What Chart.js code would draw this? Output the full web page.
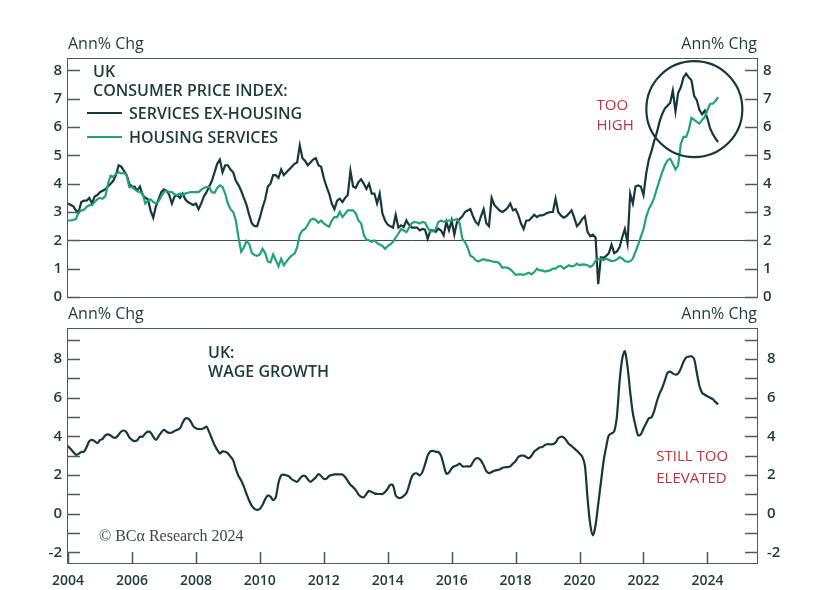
<!DOCTYPE html>
<html>
<head>
<meta charset="utf-8">
<script src="https://cdn.jsdelivr.net/npm/chart.js@4.4.1/dist/chart.umd.min.js"></script>
<style>
  body { margin: 0; background: #fff; }
  #wrap { position: relative; width: 824px; height: 590px; }
  canvas { position: absolute; left: 0; }
  .box { position: absolute; box-sizing: border-box; border: 1.5px solid #4c5c5c; pointer-events: none; }
</style>
</head>
<body>
<div id="wrap">
  <canvas id="cpi" width="824" height="302" style="top:0"></canvas>
  <canvas id="wage" width="824" height="288" style="top:302px"></canvas>
</div>
<script>
// monthly data, Jan 2004 onwards
const startYear = 2004;

const servicesExHousing = [
  3.3, 3.25, 3.2, 3.05, 3.0, 3.35, 3.4, 3.4, 3.5, 3.3, 3.55, 3.6,
  3.7, 3.75, 3.8, 3.9, 4.0, 4.1, 4.3, 4.65, 4.6, 4.45, 4.3, 4.0,
  3.9, 3.9, 3.75, 3.9, 3.6, 3.5, 3.45, 3.05, 2.8, 3.2, 3.45, 3.7,
  3.8, 3.75, 3.6, 3.3, 3.55, 3.6, 3.5, 3.65, 3.45, 3.35, 3.3, 3.25,
  3.3, 3.1, 3.3, 3.55, 3.7, 3.9, 4.1, 4.4, 4.7, 4.85, 4.4, 4.65,
  4.65, 4.5, 4.4, 4.1, 3.95, 3.75, 3.5, 3.25, 2.9, 2.6, 2.5, 2.5,
  2.8, 3.15, 3.45, 3.9, 4.0, 4.3, 4.3, 4.2, 4.5, 4.3, 4.4, 4.5,
  4.6, 4.7, 4.75, 5.35, 4.9, 4.8, 4.65, 4.75, 4.85, 4.9, 4.65, 4.6,
  4.2, 3.9, 3.65, 3.3, 3.1, 3.4, 3.47, 3.35, 3.5, 3.6, 4.45, 3.9,
  3.85, 4.05, 4.15, 4.0, 3.82, 4.0, 3.65, 3.65, 3.3, 3.65, 2.95, 2.7,
  2.55, 2.5, 2.45, 2.9, 2.45, 2.53, 2.47, 2.7, 2.55, 2.45, 2.45, 2.45,
  2.35, 2.4, 2.38, 2.05, 2.35, 2.35, 2.3, 2.41, 2.35, 2.18, 2.65, 2.35,
  2.7, 2.2, 2.65, 2.75, 2.85, 3.0, 3.05, 3.1, 2.85, 2.65, 2.55, 2.85,
  3.1, 2.6, 2.5, 3.5, 3.25, 3.15, 3.05, 3.0, 3.06, 3.15, 3.3, 3.06,
  3.1, 2.9, 2.6, 2.4, 2.7, 2.7, 2.8, 2.9, 2.82, 2.88, 2.88, 2.92,
  2.97, 3.0, 3.0, 3.47, 3.0, 2.88, 2.8, 2.85, 2.95, 3.06, 2.8, 2.5,
  2.6, 2.75, 2.85, 2.3, 2.15, 2.2, 2.1, 0.45, 1.4, 1.38, 1.45, 1.55,
  1.85, 1.55, 1.6, 1.75, 2.1, 2.4, 1.9, 3.65, 3.3, 3.9, 3.94, 3.9,
  3.6, 4.35, 4.85, 5.15, 5.5, 5.8, 6.18, 6.45, 6.65, 6.75, 6.85, 7.29,
  6.55, 7.2, 7.4, 7.75, 7.88, 7.75, 7.65, 7.1, 6.95, 6.6, 6.45, 6.58,
  6.3, 5.95, 5.75, 5.6, 5.47
];

const housingServices = [
  2.7, 2.7, 2.72, 2.76, 3.0, 3.05, 3.08, 3.18, 3.24, 3.24, 3.35, 3.45,
  3.5, 3.47, 3.55, 4.0, 4.28, 4.24, 4.35, 4.4, 4.36, 4.38, 4.3, 3.88,
  3.88, 3.8, 3.74, 3.7, 3.65, 3.3, 3.4, 3.45, 3.35, 3.3, 3.38, 3.55,
  3.7, 3.76, 3.7, 3.7, 3.62, 3.6, 3.65, 3.59, 3.65, 3.68, 3.7, 3.7,
  3.7, 3.7, 3.78, 3.85, 3.88, 3.88, 3.7, 3.68, 3.85, 3.94, 3.88, 3.65,
  3.3, 3.1, 3.0, 2.7, 2.1, 1.6, 1.75, 1.98, 1.88, 1.55, 1.48, 1.45,
  1.5, 1.7, 1.55, 1.25, 1.22, 1.5, 1.3, 1.08, 1.35, 1.12, 1.25, 1.38,
  1.47, 1.53, 1.75, 2.2, 2.35, 2.4, 2.55, 2.72, 2.76, 2.72, 2.62, 2.7,
  2.6, 2.53, 2.48, 2.7, 2.82, 2.82, 3.0, 2.82, 2.94, 3.06, 3.06, 3.06,
  2.95, 2.7, 2.6, 2.2, 2.02, 2.0, 1.94, 2.0, 1.9, 1.85, 1.8, 1.7,
  1.8, 1.86, 1.95, 2.1, 2.24, 2.4, 2.35, 2.29, 2.45, 2.6, 2.65, 2.63,
  2.59, 2.65, 2.62, 2.45, 2.3, 2.32, 2.4, 2.65, 2.7, 2.65, 2.68, 2.7,
  2.7, 2.72, 2.76, 2.6, 2.06, 1.94, 1.75, 1.46, 1.41, 1.3, 1.25, 1.3,
  1.34, 1.29, 1.29, 1.26, 1.24, 1.24, 1.18, 1.03, 1.05, 1.03, 0.98, 0.88,
  0.78, 0.8, 0.8, 0.78, 0.82, 0.86, 0.8, 0.88, 1.0, 0.94, 0.94, 0.9,
  0.92, 0.94, 1.0, 1.0, 1.08, 1.1, 1.0, 1.06, 1.12, 1.08, 1.1, 1.18,
  1.12, 1.15, 1.14, 1.12, 1.06, 1.12, 1.28, 1.33, 1.35, 1.3, 1.35, 1.31,
  1.27, 1.28, 1.32, 1.41, 1.36, 1.27, 1.24, 1.26, 1.35, 1.6, 1.85, 2.12,
  2.4, 2.82, 3.1, 3.28, 3.5, 3.82, 4.12, 4.4, 4.65, 4.82, 4.88, 4.7,
  4.5, 4.65, 5.4, 5.65, 5.65, 5.9, 6.32, 6.25, 6.18, 6.12, 6.25, 6.35,
  6.6, 6.82, 6.82, 6.92, 7.05
];

const wageGrowth = [
  3.5, 3.35, 3.19, 3.04, 3.1, 3.19, 3.2, 3.45, 3.75, 3.82, 3.75, 3.65,
  3.8, 3.87, 4.05, 4.1, 4.04, 3.94, 3.94, 4.08, 4.25, 4.3, 4.2, 3.95,
  3.82, 3.75, 3.8, 3.98, 3.98, 4.15, 4.24, 4.2, 3.98, 3.82, 4.0, 4.2,
  4.34, 4.24, 4.18, 4.2, 4.28, 4.34, 4.41, 4.7, 4.92, 4.92, 4.78, 4.53,
  4.42, 4.38, 4.38, 4.42, 4.5, 4.22, 3.88, 3.55, 3.3, 3.11, 3.22, 3.2,
  3.12, 2.95, 2.76, 2.3, 1.95, 1.72, 1.4, 1.02, 0.68, 0.4, 0.25, 0.2,
  0.24, 0.45, 0.75, 0.94, 0.88, 0.7, 0.85, 1.6, 1.98, 2.02, 1.98, 1.92,
  1.78, 1.7, 1.65, 1.81, 1.95, 1.95, 1.78, 1.65, 1.75, 1.87, 2.05, 1.95,
  1.81, 1.81, 1.95, 2.0, 2.03, 2.03, 2.03, 2.03, 1.9, 1.7, 1.5, 1.37,
  1.22, 1.0, 0.88, 0.85, 1.02, 1.18, 1.12, 1.05, 1.02, 1.02, 1.02, 1.12,
  1.3, 1.5, 1.46, 0.95, 0.82, 0.82, 0.92, 1.06, 1.45, 1.9, 2.07, 2.08,
  1.98, 2.15, 2.55, 3.0, 3.22, 3.25, 3.2, 3.19, 3.0, 2.52, 2.07, 2.13,
  2.35, 2.45, 2.5, 2.59, 2.45, 2.44, 2.45, 2.45, 2.67, 2.85, 2.87, 2.75,
  2.5, 2.2, 2.1, 2.15, 2.22, 2.25, 2.29, 2.36, 2.4, 2.41, 2.45, 2.59,
  2.72, 2.93, 3.0, 3.0, 2.93, 2.87, 3.0, 3.22, 3.32, 3.42, 3.45, 3.55,
  3.59, 3.59, 3.59, 3.68, 3.9, 3.98, 3.95, 3.8, 3.6, 3.5, 3.38, 3.25,
  3.11, 2.95, 2.5, 0.8, -0.54, -1.12, -0.6, 0.5, 1.6, 2.7, 3.45, 4.06,
  4.15, 4.25, 5.0, 6.8, 8.0, 8.4, 7.6, 6.3, 5.2, 4.55, 4.05, 4.1,
  4.4, 4.67, 4.93, 4.98, 5.3, 5.8, 6.2, 6.5, 6.88, 7.28, 7.35, 7.25,
  7.19, 7.25, 7.5, 7.85, 8.08, 8.12, 8.14, 8.0, 7.3, 6.6, 6.25, 6.15,
  6.07, 6.0, 5.92, 5.78, 5.65
];

const cpiTicks = [0, 1, 2, 3, 4, 5, 6, 7, 8];
const wageTicks = [-2, -1, 0, 1, 2, 3, 4, 5, 6, 7, 8, 9];
const wageTickLabels = [-2, 0, 2, 4, 6, 8];
const yearTicks = [2004, 2006, 2008, 2010, 2012, 2014, 2016, 2018, 2020, 2022, 2024];

const DARK = "#17383a";
const GREEN = "#21a27a";
const TEXT = "#1e3a3a";
const RED = "#b8363c";
const FRAME = "#4c5c5c";
const SANS = "'Open Sans', sans-serif";

function toPoints(arr) {
  return arr.map((v, i) => ({ x: startYear + i / 12, y: v }));
}

function setTicks(list) {
  return (scale) => { scale.ticks = list.map((v) => ({ value: v })); };
}

// tick marks pointing inwards from the plot box
function innerTicks(chart, xTicks) {
  const ctx = chart.ctx;
  const a = chart.chartArea;
  ctx.save();
  ctx.strokeStyle = FRAME;
  ctx.lineWidth = 1.5;
  ctx.beginPath();
  const yl = chart.scales.y, yr = chart.scales.yR;
  yl.ticks.forEach((t) => {
    const y = Math.round(yl.getPixelForValue(t.value)) + 0.5;
    ctx.moveTo(a.left, y); ctx.lineTo(a.left + 12, y);
  });
  yr.ticks.forEach((t) => {
    const y = Math.round(yr.getPixelForValue(t.value)) + 0.5;
    ctx.moveTo(a.right, y); ctx.lineTo(a.right - 12, y);
  });
  if (xTicks) {
    const xs = chart.scales.x;
    xs.ticks.forEach((t) => {
      const x = Math.round(xs.getPixelForValue(t.value)) + 0.5;
      ctx.moveTo(x, a.bottom); ctx.lineTo(x, a.bottom - 11);
    });
  }
  ctx.stroke();
  ctx.restore();
}

// the box itself sits on top of the canvas, sized from the chart area
function addBox(chart) {
  const a = chart.chartArea;
  const top = chart.canvas.offsetTop;
  const d = document.createElement("div");
  d.className = "box";
  d.style.left = (a.left - 0.75) + "px";
  d.style.top = (top + a.top - 0.75) + "px";
  d.style.width = (a.right - a.left + 1.5) + "px";
  d.style.height = (a.bottom - a.top + 1.5) + "px";
  document.getElementById("wrap").appendChild(d);
}

function text(ctx, s, x, y, font, color, align) {
  ctx.font = font;
  ctx.fillStyle = color;
  ctx.textAlign = align || "left";
  ctx.textBaseline = "middle";
  ctx.fillText(s, x, y);
}

const HEAD = "600 16px " + SANS;
const CALLOUT = "500 15px " + SANS;
const UNIT = "500 16px " + SANS;

const cpiNotes = {
  id: "cpiNotes",
  afterDraw(chart) {
    innerTicks(chart, false);
    const { ctx, chartArea: a, scales } = chart;
    const xs = scales.x, ys = scales.y;
    ctx.save();
    text(ctx, "Ann% Chg", a.left, a.top - 15, UNIT, TEXT);
    text(ctx, "Ann% Chg", a.right, a.top - 15, UNIT, TEXT, "right");
    text(ctx, "UK", a.left + 25, a.top + 13, HEAD, TEXT);
    text(ctx, "CONSUMER PRICE INDEX:", a.left + 25, a.top + 32, HEAD, TEXT);
    ctx.lineWidth = 2.2;
    ctx.strokeStyle = DARK;
    ctx.beginPath(); ctx.moveTo(a.left + 19, a.top + 54); ctx.lineTo(a.left + 54, a.top + 54); ctx.stroke();
    text(ctx, "SERVICES EX-HOUSING", a.left + 61, a.top + 55, HEAD, TEXT);
    ctx.strokeStyle = GREEN;
    ctx.beginPath(); ctx.moveTo(a.left + 19, a.top + 78); ctx.lineTo(a.left + 54, a.top + 78); ctx.stroke();
    text(ctx, "HOUSING SERVICES", a.left + 61, a.top + 79, HEAD, TEXT);
    text(ctx, "TOO", xs.getPixelForValue(2020.53), ys.getPixelForValue(6.75), CALLOUT, RED);
    text(ctx, "HIGH", xs.getPixelForValue(2020.53), ys.getPixelForValue(6.03), CALLOUT, RED);
    ctx.strokeStyle = DARK;
    ctx.lineWidth = 2.2;
    ctx.beginPath();
    ctx.arc(xs.getPixelForValue(2023.59), ys.getPixelForValue(6.63), 48, 0, Math.PI * 2);
    ctx.stroke();
    ctx.restore();
  }
};

const wageNotes = {
  id: "wageNotes",
  afterDraw(chart) {
    innerTicks(chart, true);
    const { ctx, chartArea: a, scales } = chart;
    const xs = scales.x, ys = scales.y;
    ctx.save();
    text(ctx, "Ann% Chg", a.left, a.top - 15, UNIT, TEXT);
    text(ctx, "Ann% Chg", a.right, a.top - 15, UNIT, TEXT, "right");
    text(ctx, "UK:", a.left + 140, a.top + 24, HEAD, TEXT);
    text(ctx, "WAGE GROWTH", a.left + 140, a.top + 43, HEAD, TEXT);
    text(ctx, "STILL TOO", xs.getPixelForValue(2022.4), ys.getPixelForValue(2.95), CALLOUT, RED);
    text(ctx, "ELEVATED", xs.getPixelForValue(2022.4), ys.getPixelForValue(1.83), CALLOUT, RED);
    text(ctx, "\u00A9 BC\u03B1 Research 2024", a.left + 31, a.top + 208, "16px 'Liberation Serif', serif", "#3a4848");
    ctx.restore();
  }
};

const tickFont = { family: SANS, size: 15, weight: "600" };

function fitY(width) {
  return (s) => { s.width = width; s.paddingTop = 0; s.paddingBottom = 0; };
}

function yAxes(min, max, ticks, labelFn, rightPad) {
  return {
    y: {
      position: "left", min: min, max: max,
      afterBuildTicks: setTicks(ticks),
      afterFit: fitY(68),
      border: { display: false },
      grid: {
        drawTicks: false,
        color: (c) => (c.tick && c.tick.value === 2 && min === 0 ? "#3e4c4c" : "rgba(0,0,0,0)"),
        lineWidth: 1
      },
      ticks: { padding: 6, color: TEXT, font: tickFont, callback: labelFn }
    },
    yR: {
      position: "right", min: min, max: max,
      afterBuildTicks: setTicks(ticks),
      afterFit: fitY(67),
      border: { display: false },
      grid: { display: false, drawTicks: false },
      ticks: { padding: rightPad, color: TEXT, font: tickFont, callback: labelFn }
    }
  };
}

const base = {
  responsive: false,
  animation: false,
  devicePixelRatio: 1,
  elements: { point: { radius: 0 } }
};

const cpiChart = new Chart(document.getElementById("cpi"), {
  type: "line",
  data: {
    datasets: [
      { label: "Housing services", data: toPoints(housingServices), borderColor: GREEN, borderWidth: 2.2, tension: 0 },
      { label: "Services ex-housing", data: toPoints(servicesExHousing), borderColor: DARK, borderWidth: 2.2, tension: 0 }
    ]
  },
  options: Object.assign({}, base, {
    layout: { padding: { top: 59, bottom: 5 } },
    plugins: { legend: { display: false }, tooltip: { enabled: false } },
    scales: Object.assign({
      x: { type: "linear", min: 2004, max: 2025.55, display: false }
    }, yAxes(0, 8.4, cpiTicks, (v) => String(v), 6))
  }),
  plugins: [cpiNotes]
});

const wageChart = new Chart(document.getElementById("wage"), {
  type: "line",
  data: {
    datasets: [
      { label: "Wage growth", data: toPoints(wageGrowth), borderColor: DARK, borderWidth: 2.2, tension: 0.3 }
    ]
  },
  options: Object.assign({}, base, {
    layout: { padding: { top: 27 } },
    plugins: { legend: { display: false }, tooltip: { enabled: false } },
    scales: Object.assign({
      x: {
        type: "linear", min: 2004, max: 2025.55,
        afterBuildTicks: setTicks(yearTicks),
        afterFit: (s) => { s.height = 27; s.paddingLeft = 0; s.paddingRight = 0; },
        border: { display: false },
        grid: { display: false, drawTicks: false },
        ticks: { padding: 10, color: TEXT, font: { family: SANS, size: 14, weight: "600" }, maxRotation: 0, autoSkip: false, callback: (v) => String(v) }
      }
    }, yAxes(-2.55, 9.55, wageTicks, (v) => (wageTickLabels.includes(v) ? String(v) : ""), 10))
  }),
  plugins: [wageNotes]
});

addBox(cpiChart);
addBox(wageChart);
</script>
</body>
</html>
